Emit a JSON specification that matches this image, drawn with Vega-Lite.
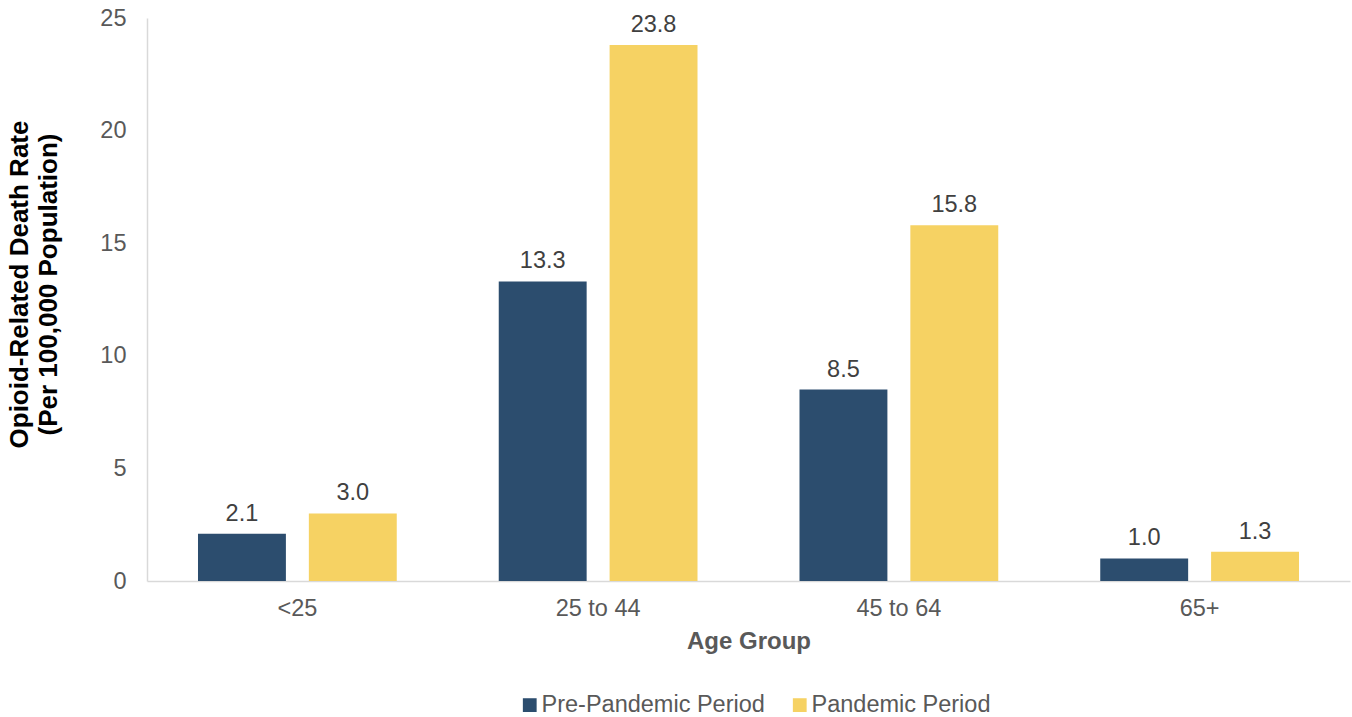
{
  "$schema": "https://vega.github.io/schema/vega-lite/v6.json",
  "autosize": "none",
  "width": 1203,
  "height": 563,
  "padding": {"left": 147, "top": 18, "right": 2, "bottom": 136},
  "background": "white",
  "config": {
    "view": {"stroke": null},
    "font": "Liberation Sans"
  },
  "data": {
    "values": [
      {"age": "<25", "period": "Pre-Pandemic Period", "rate": 2.1},
      {"age": "<25", "period": "Pandemic Period", "rate": 3.0},
      {"age": "25 to 44", "period": "Pre-Pandemic Period", "rate": 13.3},
      {"age": "25 to 44", "period": "Pandemic Period", "rate": 23.8},
      {"age": "45 to 64", "period": "Pre-Pandemic Period", "rate": 8.5},
      {"age": "45 to 64", "period": "Pandemic Period", "rate": 15.8},
      {"age": "65+", "period": "Pre-Pandemic Period", "rate": 1.0},
      {"age": "65+", "period": "Pandemic Period", "rate": 1.3}
    ]
  },
  "encoding": {
    "x": {
      "field": "age",
      "type": "nominal",
      "sort": ["<25", "25 to 44", "45 to 64", "65+"],
      "scale": {"paddingInner": 0, "paddingOuter": 0},
      "axis": {
        "title": "Age Group",
        "titleFont": "Liberation Sans",
        "titleFontSize": 24,
        "titleFontWeight": "bold",
        "titleColor": "#595959",
        "titlePadding": 10,
        "labelAngle": 0,
        "labelFont": "Liberation Sans",
        "labelFontSize": 23.5,
        "labelColor": "#595959",
        "labelPadding": 15,
        "ticks": false,
        "domainColor": "#d9d9d9",
        "domainWidth": 1.5
      }
    },
    "xOffset": {
      "field": "period",
      "type": "nominal",
      "sort": ["Pre-Pandemic Period", "Pandemic Period"],
      "scale": {"paddingInner": 0.207, "paddingOuter": 0.46}
    },
    "y": {
      "field": "rate",
      "type": "quantitative",
      "scale": {"domain": [0, 25], "nice": false},
      "axis": {
        "title": ["Opioid-Related Death Rate", "(Per 100,000 Population)"],
        "titleFont": "Liberation Sans",
        "titleFontSize": 26,
        "titleFontWeight": "bold",
        "titleColor": "#000000",
        "titleLineHeight": 29,
        "titleX": -115,
        "titleY": 266,
        "values": [0, 5, 10, 15, 20, 25],
        "grid": false,
        "ticks": false,
        "labelFont": "Liberation Sans",
        "labelFontSize": 23.5,
        "labelColor": "#595959",
        "labelPadding": 21,
        "domainColor": "#d9d9d9",
        "domainWidth": 1.5
      }
    }
  },
  "layer": [
    {
      "mark": {"type": "bar"},
      "encoding": {
        "color": {
          "field": "period",
          "type": "nominal",
          "sort": ["Pre-Pandemic Period", "Pandemic Period"],
          "scale": {
            "domain": ["Pre-Pandemic Period", "Pandemic Period"],
            "range": ["#2C4D6E", "#F6D263"]
          },
          "legend": {
            "title": null,
            "orient": "none",
            "direction": "horizontal",
            "legendX": 371,
            "legendY": 675,
            "symbolType": "square",
            "symbolSize": 190,
            "symbolStrokeWidth": 0,
            "labelFont": "Liberation Sans",
            "labelFontSize": 23.5,
            "labelColor": "#595959",
            "labelLimit": 0,
            "labelOffset": 0,
            "columnPadding": 23
          }
        }
      }
    },
    {
      "mark": {
        "type": "text",
        "baseline": "alphabetic",
        "dy": -13,
        "font": "Liberation Sans",
        "fontSize": 23.5,
        "color": "#404040"
      },
      "encoding": {
        "text": {"field": "rate", "type": "quantitative", "format": ".1f"}
      }
    }
  ]
}
